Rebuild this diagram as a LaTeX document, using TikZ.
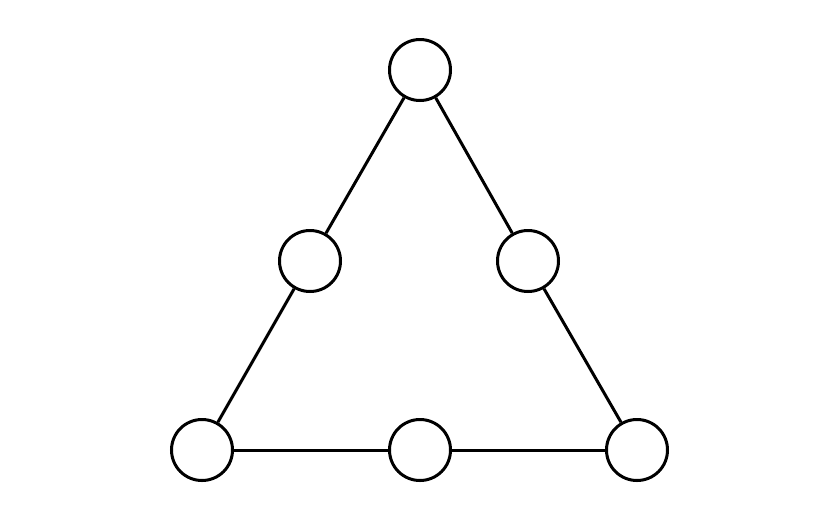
\documentclass[tikz,border=0pt]{standalone}
\usepackage{tikz}
\usetikzlibrary{positioning}

\begin{document}
\begin{tikzpicture}[x=0.03cm, y=-0.03cm, line width=0.09cm,
    vertex/.style={draw, circle, fill=white, minimum size=1.83cm, inner sep=0pt}]
    \useasboundingbox (0,0) rectangle (840,524);

    \node [vertex] (apex) at (420,70) {};
    \node [vertex] (leftmid) at (310,261) {};
    \node [vertex] (rightmid) at (528,261) {};
    \node [vertex] (leftbase) at (202,450) {};
    \node [vertex] (basemid) at (420,450) {};
    \node [vertex] (rightbase) at (637,450) {};

    \draw (apex) -- (leftmid);
    \draw (leftmid) -- (leftbase);
    \draw (apex) -- (rightmid);
    \draw (rightmid) -- (rightbase);
    \draw (leftbase) -- (basemid);
    \draw (basemid) -- (rightbase);

\end{tikzpicture}
\end{document}
